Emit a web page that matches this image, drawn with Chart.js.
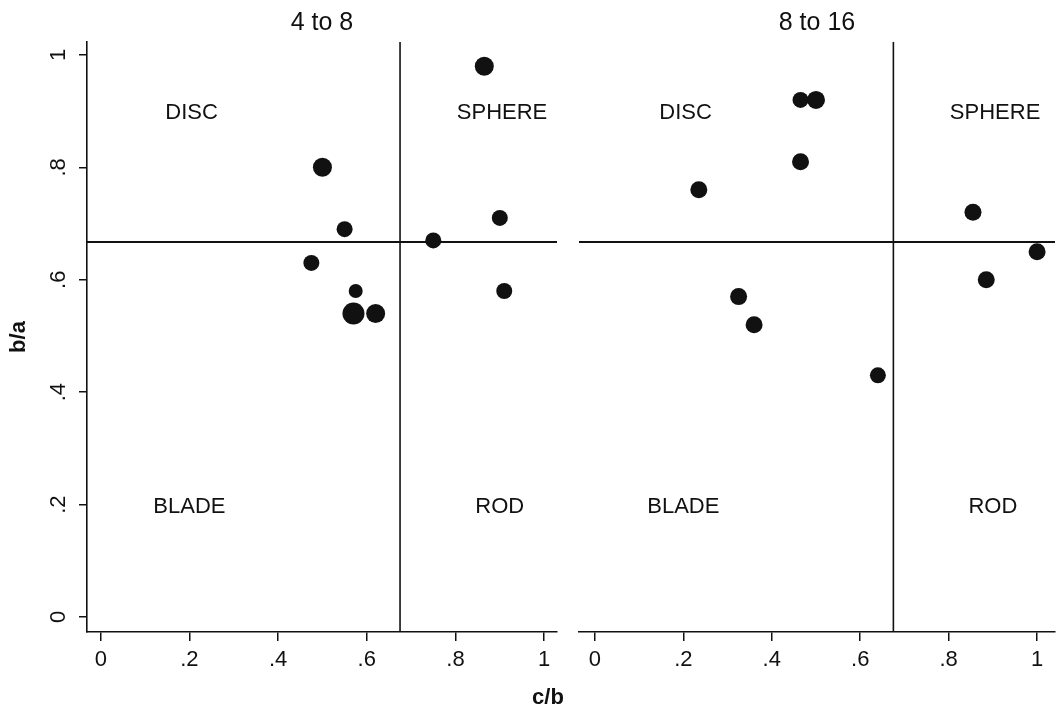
<!DOCTYPE html>
<html>
<head>
<meta charset="utf-8">
<title>Zingg</title>
<script src="https://cdn.jsdelivr.net/npm/chart.js@4.4.1/dist/chart.umd.min.js"></script>
<style>
  body { margin: 0; background: #fff; }
  #wrap { position: relative; width: 1056px; height: 711px; overflow: hidden; background: #fff; }
  #wrap canvas { position: absolute; top: 0; }
  #c1 { left: 0; }
  #c2 { left: 570px; }
  #xtitle {
    position: absolute; left: 548px; top: 686px; transform: translateX(-50%);
    font: bold 22px "Liberation Sans", Arial, sans-serif; line-height: 1; color: #111;
  }
</style>
</head>
<body>
<div id="wrap">
  <canvas id="c1" width="570" height="711"></canvas>
  <!-- 右图画布略宽于窗口, 最后一个刻度标签会让绘图区右缩约 8px -->
  <canvas id="c2" width="494" height="711"></canvas>
  <div id="xtitle">c/b</div>
</div>
<script>
// 两个粒径组的数据 (c/b, b/a)
const panelTitles = ['4 to 8', '8 to 16'];

const cbSmall = [0.50, 0.55, 0.475, 0.575, 0.57, 0.62, 0.75, 0.865, 0.90, 0.91];
const baSmall = [0.80, 0.69, 0.63, 0.58, 0.54, 0.54, 0.67, 0.98, 0.71, 0.58];

const cbLarge = [0.235, 0.465, 0.50, 0.465, 0.325, 0.36, 0.64, 0.855, 0.885, 1.00];
const baLarge = [0.76, 0.92, 0.92, 0.81, 0.57, 0.52, 0.43, 0.72, 0.60, 0.65];

const xTicks = [0, 0.2, 0.4, 0.6, 0.8, 1];
const xTickLabels = ['0', '.2', '.4', '.6', '.8', '1'];
const yTicks = [0, 0.2, 0.4, 0.6, 0.8, 1];
const yTickLabels = ['0', '.2', '.4', '.6', '.8', '1'];

// 形状分区
const zoneNames = ['DISC', 'SPHERE', 'BLADE', 'ROD'];
const zoneCB = [0.205, 0.905, 0.2, 0.9];
const zoneBA = [0.9, 0.9, 0.2, 0.2];
const cbLimit = 0.675;
const baLimit = 0.667;

// 点的大小 (样式)
const radiusSmall = [9.5, 8, 8, 7, 11, 9.5, 8, 9.5, 8, 8];
const radiusLarge = [8.5, 8, 9, 8.5, 8.5, 8.5, 8, 8.5, 8.5, 8.5];

const FONT = '"Liberation Sans", Arial, sans-serif';
const INK = '#111';

const zinggPlugin = {
    id: 'zingg',
    beforeDatasetsDraw(chart, args, opts) {
        const { ctx, chartArea: a, scales: { x, y } } = chart;
        ctx.save();
        ctx.strokeStyle = INK;
        ctx.lineWidth = 1.6;
        ctx.beginPath();
        const px = x.getPixelForValue(cbLimit);
        ctx.moveTo(px, a.top);
        ctx.lineTo(px, a.bottom);
        ctx.stroke();
        ctx.lineWidth = 2;
        ctx.beginPath();
        const py = y.getPixelForValue(baLimit);
        ctx.moveTo(a.left, py);
        ctx.lineTo(a.right, py);
        ctx.stroke();

        ctx.fillStyle = INK;
        ctx.textAlign = 'center';
        ctx.textBaseline = 'alphabetic';
        ctx.font = '22px ' + FONT;
        zoneNames.forEach((name, i) => {
            ctx.fillText(name, x.getPixelForValue(zoneCB[i]), y.getPixelForValue(zoneBA[i]) + 8);
        });

        ctx.font = '25px ' + FONT;
        ctx.fillText(opts.title, (a.left + a.right) / 2, 30);
        ctx.restore();
    }
};

function makePanel(id, cb, ba, radii, title, xMin, xMax, showY, pad) {
    return new Chart(document.getElementById(id), {
        type: 'scatter',
        data: {
            datasets: [{
                data: cb.map((v, i) => ({ x: v, y: ba[i] })),
                backgroundColor: INK,
                borderWidth: 0,
                pointRadius: radii,
                pointHoverRadius: radii
            }]
        },
        options: {
            responsive: false,
            animation: false,
            events: [],
            layout: { padding: pad },
            plugins: {
                legend: { display: false },
                tooltip: { enabled: false },
                zingg: { title: title }
            },
            scales: {
                x: {
                    type: 'linear',
                    min: xMin,
                    max: xMax,
                    afterBuildTicks: s => { s.ticks = xTicks.map(v => ({ value: v })); },
                    afterFit: s => { s.height = 79; },
                    grid: { display: true, drawOnChartArea: false, drawTicks: true, tickLength: 9, color: INK, lineWidth: 1.5 },
                    border: { display: true, color: INK, width: 1.6 },
                    ticks: {
                        autoSkip: false, maxRotation: 0, minRotation: 0, padding: 6,
                        color: INK, font: { family: FONT, size: 22 },
                        callback: (v, i) => xTickLabels[i]
                    }
                },
                y: {
                    type: 'linear',
                    display: showY,
                    min: -0.0267,
                    max: 1.023,
                    afterBuildTicks: s => { s.ticks = yTicks.map(v => ({ value: v })); },
                    afterFit: s => { if (showY) s.width = 87; },
                    grid: { display: true, drawOnChartArea: false, drawTicks: true, tickLength: 8, color: INK, lineWidth: 1.5 },
                    border: { display: true, color: INK, width: 1.6 },
                    title: {
                        display: true, text: 'b/a', color: INK,
                        font: { family: FONT, size: 22, weight: 'bold' },
                        padding: { top: 6, bottom: 0 }
                    },
                    ticks: {
                        autoSkip: false, minRotation: 90, maxRotation: 90, crossAlign: 'center', padding: 11,
                        color: INK, font: { family: FONT, size: 22 },
                        callback: (v, i) => yTickLabels[i]
                    }
                }
            }
        },
        plugins: [zinggPlugin]
    });
}

makePanel('c1', cbSmall, baSmall, radiusSmall, panelTitles[0], -0.031, 1.029, true,
    { left: 0, top: 42, right: 13, bottom: 0 });
makePanel('c2', cbLarge, baLarge, radiusLarge, panelTitles[1], -0.036, 1.0405, false,
    { left: 8, top: 42, right: 0, bottom: 0 });
</script>
</body>
</html>
